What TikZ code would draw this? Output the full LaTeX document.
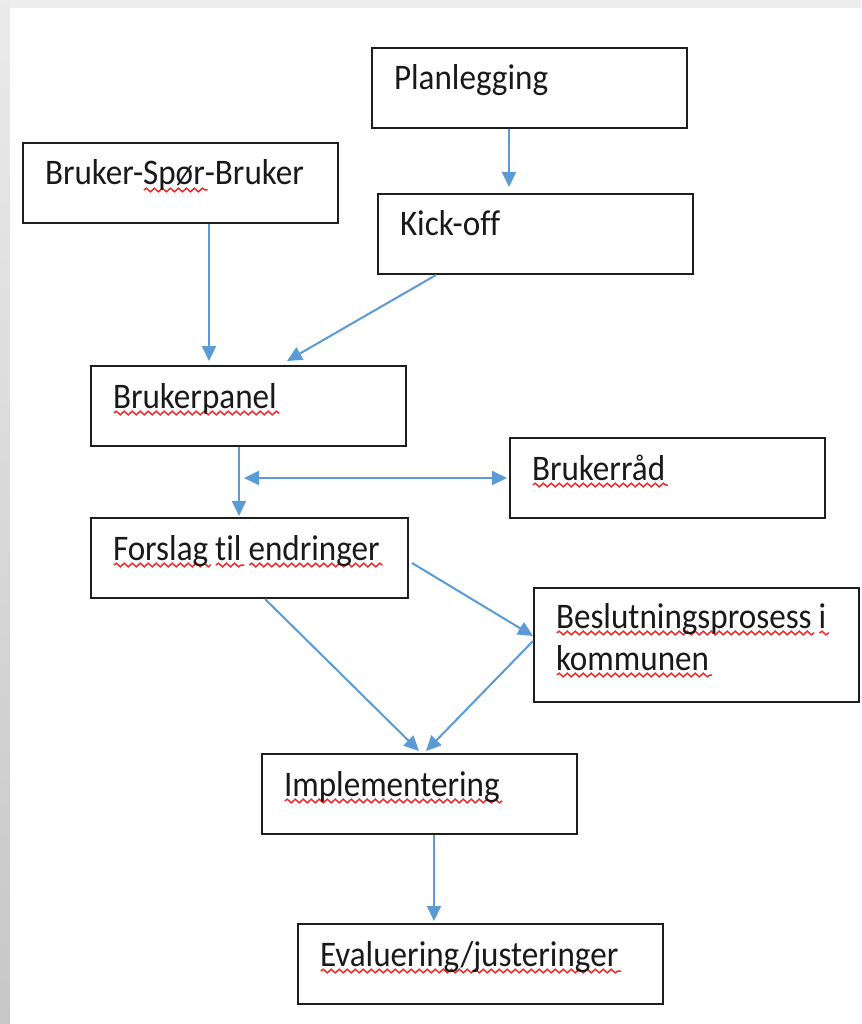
\documentclass[tikz,border=0pt]{standalone}
\usepackage{fontspec}
\setmainfont{Carlito}[FakeStretch=0.92, Ligatures=NoCommon]
\usetikzlibrary{arrows.meta,decorations.pathmorphing}
\definecolor{pilblaa}{RGB}{91,155,213}
\definecolor{feilrod}{RGB}{235,45,45}
\definecolor{kant}{RGB}{30,30,30}
% rød bølgelinje under ord
\newsavebox\feilboks
\newcommand\feil[1]{\leavevmode\sbox\feilboks{#1}%
  \rlap{\tikz[baseline=0pt]\draw[feilrod, line width=1.5pt, decorate,
    decoration={snake, amplitude=1.8pt, segment length=8pt}] (-1pt,-5pt) -- (\wd\feilboks+1pt,-5pt);}%
  \usebox\feilboks}
\newcommand\mellom{\hspace{7pt}}

\begin{document}
\begin{tikzpicture}[x=1pt, y=-1pt,
    boks/.style={draw=kant, line width=2pt, anchor=north west, inner xsep=22pt, inner ysep=0pt,
      minimum height=80pt, text height=28pt, text depth=24pt, align=left, text=black!90,
      font=\fontsize{36}{42}\selectfont},
    tupp/.tip={Triangle[length=15pt,width=14pt]},
    pil/.style={draw=pilblaa, line width=2pt, -{tupp}}]
	\useasboundingbox (0,0) rectangle (861,1024);
	
	% bakgrunn
	\fill[black!7] (0,0) rectangle (861,1024);
	\shade[top color=black!8, bottom color=black!22] (0,0) rectangle (10,1024);
	\fill[white] (10,8) rectangle (861,1024);
	
	% bokser
	\node[boks, text width=271pt] (plan) at (371,47) {Planlegging};
	\node[boks, text width=271pt] (bsb) at (22,142) {Bruker-\feil{Spør}-Bruker};
	\node[boks, text width=271pt] (kick) at (377,193) {Kick-off};
	\node[boks, text width=271pt] (bpanel) at (90,365) {\feil{Brukerpanel}};
	\node[boks, text width=271pt] (brad) at (509,437) {\feil{Brukerråd}};
	\node[boks, text width=273pt] (forslag) at (90,517) {\feil{Forslag}\mellom\feil{til}\mellom\feil{endringer}};
	\node[boks, text width=281pt, minimum height=114pt, text depth=62pt] (besl) at (533,587) {\feil{Beslutningsprosess}\mellom\feil{i}\\\feil{kommunen}};
	\node[boks, text width=271pt] (impl) at (261,753) {\feil{Implementering}};
	\node[boks, text width=321pt] (eval) at (297,923) {\feil{Evaluering/justeringer}};
	
	% piler
	\draw[pil] ([xshift=138pt]plan.south west) -- ([xshift=132pt,yshift=6pt]kick.north west);
	\draw[pil] ([xshift=187pt]bsb.south west) -- ([xshift=119pt,yshift=4pt]bpanel.north west);
	\draw[pil] ([xshift=59pt]kick.south west) -- ([xshift=197pt,yshift=4pt]bpanel.north west);
	\draw[pil] ([xshift=149pt]bpanel.south west) -- ([xshift=149pt,yshift=1pt]forslag.north west);
	\draw[pil, tupp-tupp] ([xshift=-265pt]brad.west) -- ([xshift=-2pt]brad.west);
	\draw[pil] ([xshift=3pt,yshift=-5pt]forslag.east) -- ([yshift=9pt]besl.west);
	\draw[pil] ([yshift=4pt]besl.west) -- ([xshift=6.5pt,yshift=2pt]impl.north);
	\draw[pil] ([xshift=175pt]forslag.south west) -- ([xshift=-0.5pt,yshift=2pt]impl.north);
	\draw[pil] ([xshift=173pt]impl.south west) -- ([xshift=137pt,yshift=2pt]eval.north west);
	
\end{tikzpicture}
\end{document}
